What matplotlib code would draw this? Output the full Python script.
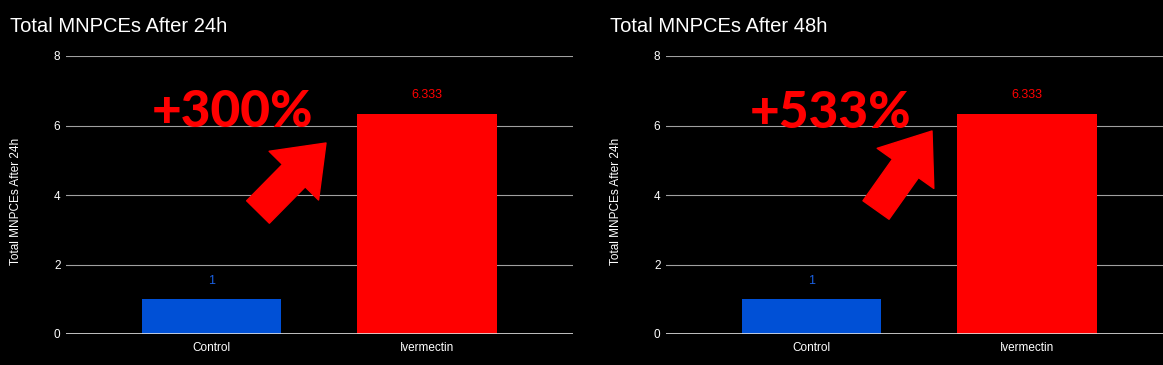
import matplotlib.pyplot as plt

W, H = 1163, 365

categories = ["Control", "Ivermectin"]
values_24h = [1, 6.333]
values_48h = [1, 6.333]
value_labels = ["1", "6.333"]
titles = ["Total MNPCEs After 24h", "Total MNPCEs After 48h"]
ylabel = "Total MNPCEs After 24h"
increases = ["+300%", "+533%"]
yticks = [0, 2, 4, 6, 8]

bar_colors = ["#0050d6", "#ff0000"]
label_colors = ["#1a5fe0", "#ff0000"]

# arrow tail / tip in image pixels (y from top)
arrows = [((258, 212), (326, 143)), ((876, 210), (932, 131))]
text_pos = [(152, 127), (750, 128)]

fig = plt.figure(figsize=(W / 100, H / 100), dpi=100, facecolor="black")


def panel(x0, values, title, inc, arrow, tpos):
    ax = fig.add_axes([(x0 + 66) / W, 31 / H, 507 / W, 278 / H])
    ax.set_facecolor("black")
    x = range(len(categories))
    ax.bar(x, values, width=0.647, color=bar_colors, zorder=2)
    for xi, v, lab, c in zip(x, values, value_labels, label_colors):
        ax.annotate(lab, (xi, v), xytext=(0, 9), textcoords="offset points",
                    ha="center", va="bottom", color=c, fontsize=9,
                    family="Liberation Sans")
    ax.set_xlim(-0.675, 1.677)
    ax.set_ylim(0, 8)
    ax.set_yticks(yticks)
    ax.set_xticks(list(x))
    ax.set_xticklabels(categories)
    ax.tick_params(length=0, colors="white", labelsize=8.5, pad=4)
    ax.tick_params(axis="x", pad=6)
    for lbl in ax.get_xticklabels() + ax.get_yticklabels():
        lbl.set_family("Liberation Sans")
    ax.grid(axis="y", color="#a0a0a0", linewidth=0.8, zorder=0)
    ax.axhline(0, color="#e0e0e0", linewidth=1.2, zorder=3)
    for s in ax.spines.values():
        s.set_visible(False)

    fig.text((x0 + 10) / W, 1 - 26 / H, title, color="white", fontsize=14.5,
             va="center", ha="left", family="Liberation Sans")
    fig.text((x0 + 16) / W, 1 - 201 / H, ylabel, color="white", fontsize=8.5,
             rotation=90, va="center", ha="center", family="Liberation Sans")

    fig.text(tpos[0] / W, 1 - tpos[1] / H, inc, color="#ff0000", fontsize=37,
             fontweight="black", family=["Lato", "DejaVu Sans"],
             ha="left", va="baseline")
    (tx, ty), (hx, hy) = arrow
    fig.add_artist(plt.matplotlib.patches.FancyArrowPatch(
        (tx / W, 1 - ty / H), (hx / W, 1 - hy / H),
        transform=fig.transFigure,
        arrowstyle="simple,head_length=33,head_width=50,tail_width=23",
        mutation_scale=1, color="#ff0000", shrinkA=0, shrinkB=0))


panel(0, values_24h, titles[0], increases[0], arrows[0], text_pos[0])
panel(600, values_48h, titles[1], increases[1], arrows[1], text_pos[1])

fig.savefig("out.png", dpi=100, facecolor="black")
